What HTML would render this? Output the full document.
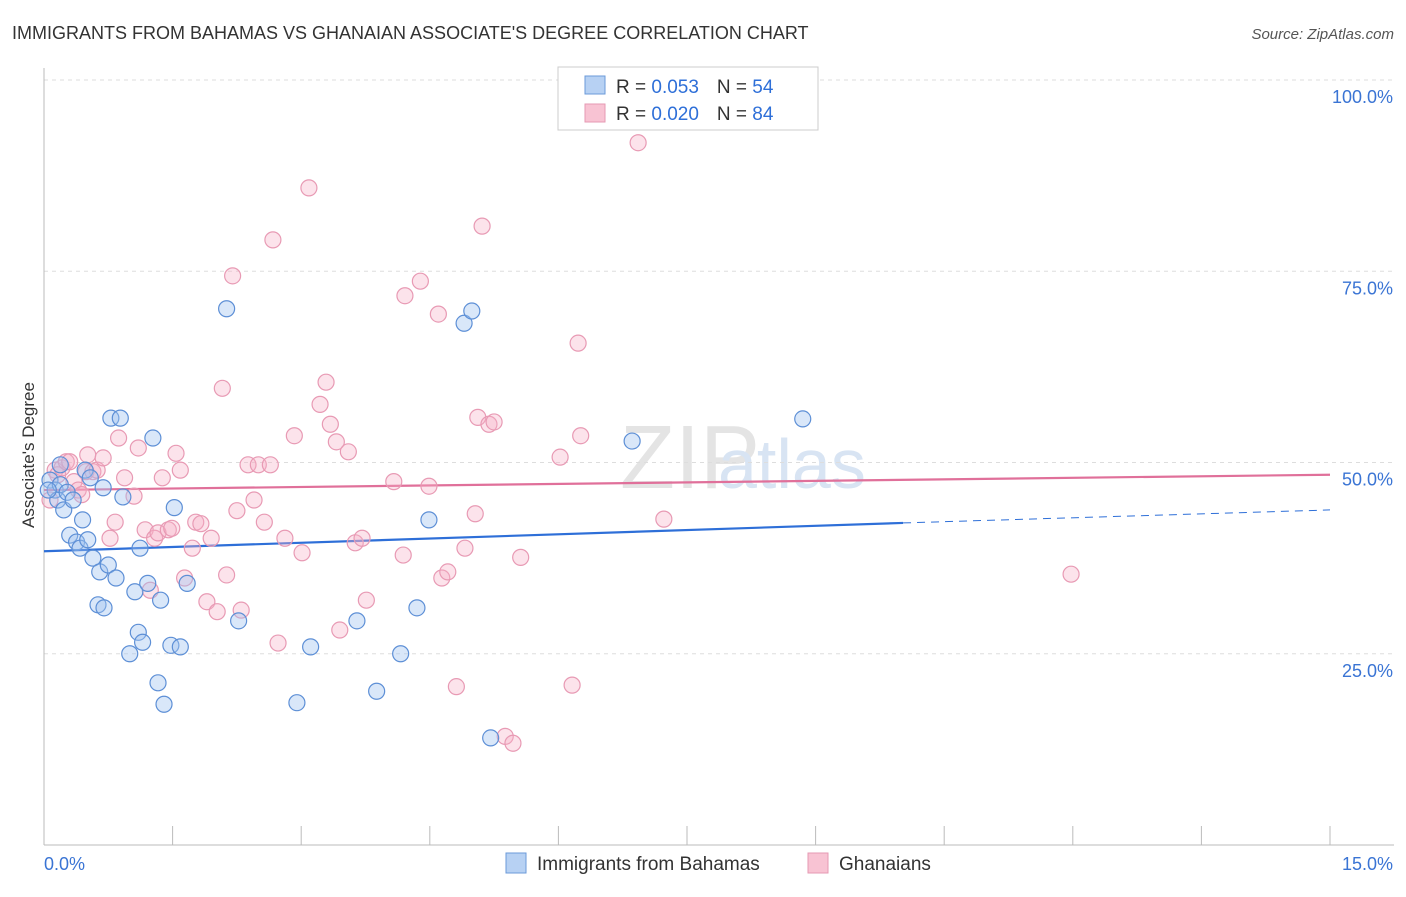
<!DOCTYPE html>
<html><head><meta charset="utf-8"><style>
body{margin:0;background:#fff;font-family:"Liberation Sans",sans-serif;}
svg text{font-family:"Liberation Sans",sans-serif;}
</style></head><body>
<svg id="chart" width="1406" height="892" xmlns="http://www.w3.org/2000/svg">
<text x="12" y="39" font-size="18" fill="#333">IMMIGRANTS FROM BAHAMAS VS GHANAIAN ASSOCIATE'S DEGREE CORRELATION CHART</text>
<text x="1394" y="39" font-size="15" fill="#555" font-style="italic" text-anchor="end">Source: ZipAtlas.com</text>
<text x="34" y="455" font-size="17" fill="#333" text-anchor="middle" transform="rotate(-90 34 455)">Associate's Degree</text>
<text x="620" y="488" font-size="90" fill="#e4e4e4" font-family="Liberation Serif">ZIP</text>
<text x="718" y="488" font-size="70" fill="#d8e4f3">atlas</text>
<g id="grid"></g>
<g id="axes"></g>
<g id="trends"></g>
<g id="pts"></g>
<g>
<rect x="558" y="67" width="260" height="63" fill="#fff" stroke="#ccc"/>
<rect x="585" y="76" width="20" height="18" fill="#b7d1f3" stroke="#6b9ad8"/>
<rect x="585" y="104" width="20" height="18" fill="#f8c3d3" stroke="#e69ab3"/>
<text x="616" y="93" font-size="19" fill="#333">R = <tspan fill="#2e6fd8">0.053</tspan><tspan dx="18">N = </tspan><tspan fill="#2e6fd8">54</tspan></text>
<text x="616" y="120" font-size="19" fill="#333">R = <tspan fill="#2e6fd8">0.020</tspan><tspan dx="18">N = </tspan><tspan fill="#2e6fd8">84</tspan></text>
</g>
<g>
<rect x="506" y="853" width="20" height="20" fill="#b7d1f3" stroke="#6b9ad8"/>
<text x="537" y="870" font-size="19" fill="#333">Immigrants from Bahamas</text>
<rect x="808" y="853" width="20" height="20" fill="#f8c3d3" stroke="#e69ab3"/>
<text x="839" y="870" font-size="19" fill="#333">Ghanaians</text>
</g>
</svg>
<script>
const xTicks=[0,1.5,3,4.5,6,7.5,9,10.5,12,13.5,15];
const yTicks=[25,50,75,100];
const yTickLabels=["25.0%","50.0%","75.0%","100.0%"];
const xEndLabels=["0.0%","15.0%"];
const bahamasX=[0.07,0.13,0.16,0.19,0.23,0.27,0.30,0.34,0.38,0.42,0.45,0.48,0.51,0.54,0.57,0.63,0.65,0.69,0.70,0.75,0.78,0.84,0.89,0.92,1.00,1.06,1.10,1.12,1.15,1.21,1.27,1.33,1.36,1.40,1.48,1.52,1.59,1.67,2.13,2.27,2.95,3.11,3.65,3.88,4.16,4.35,4.49,4.90,4.99,5.21,6.86,8.85,0.19,0.05];
const bahamasY=[47.7,46.4,45.1,47.1,43.8,46.1,40.5,45.1,39.6,38.8,42.5,49.0,39.9,48.0,37.5,31.4,35.7,46.7,31.0,36.6,55.8,34.9,55.8,45.5,25.0,33.1,27.8,38.8,26.5,34.2,53.2,21.2,32.0,18.4,26.1,44.1,25.9,34.2,70.1,29.3,18.6,25.9,29.3,20.1,25.0,31.0,42.5,68.2,69.8,14.0,52.8,55.7,49.7,46.4];
const ghanaX=[0.07,0.13,0.16,0.21,0.26,0.30,0.35,0.40,0.44,0.49,0.51,0.57,0.62,0.69,0.77,0.83,0.87,0.94,1.05,1.10,1.18,1.24,1.29,1.33,1.38,1.45,1.49,1.54,1.59,1.64,1.73,1.77,1.83,1.90,1.95,2.02,2.08,2.13,2.20,2.25,2.30,2.38,2.45,2.50,2.57,2.64,2.67,2.73,2.81,2.92,3.01,3.09,3.22,3.29,3.34,3.41,3.45,3.55,3.63,3.71,3.76,4.08,4.19,4.21,4.39,4.49,4.60,4.64,4.71,4.81,4.91,5.03,5.06,5.11,5.19,5.25,5.38,5.47,5.56,6.02,6.16,6.23,6.26,6.93,7.23,11.98];
const ghanaY=[45.1,49.0,48.4,49.3,50.1,50.1,47.5,46.4,45.8,48.8,51.0,48.8,49.0,50.6,40.1,42.2,53.2,48.0,45.6,51.9,41.2,33.3,40.1,40.8,48.0,41.2,41.4,51.2,49.0,34.9,38.8,42.2,42.0,31.8,40.1,30.5,59.7,35.3,74.4,43.7,30.7,49.7,45.1,49.7,42.2,49.7,79.1,26.4,40.1,53.5,38.2,85.9,57.6,60.5,55.0,52.7,28.1,51.4,39.5,40.1,32.0,47.5,37.9,71.8,73.7,46.9,69.4,34.9,35.7,20.7,38.8,43.3,55.9,80.9,55.0,55.3,14.2,13.3,37.6,50.7,20.9,65.6,53.5,91.8,42.6,35.4];
const bahamasTrend=[38.4,42.1,43.8];
const trendX=[0,10.02,15];
const ghanaTrend=[46.4,48.4];

const NS="http://www.w3.org/2000/svg";
const X0=44,X1=1330,Y0=845,Y100=80;
function sx(v){return X0+(X1-X0)*v/15;}
function sy(v){return Y0-(Y0-Y100)*v/100;}
function mk(tag,attrs,parent){const e=document.createElementNS(NS,tag);for(const k in attrs)e.setAttribute(k,attrs[k]);parent.appendChild(e);return e;}
const grid=document.getElementById('grid'),axes=document.getElementById('axes'),trends=document.getElementById('trends'),pts=document.getElementById('pts');
yTicks.forEach((t,i)=>{
 const l=mk('line',{x1:X0,x2:1394,y1:sy(t),y2:sy(t),stroke:'#ddd','stroke-dasharray':'4,4'},grid);
 
 
 const tx=mk('text',{x:1393,y:sy(t)+23,'font-size':18,fill:'#3a74d4','text-anchor':'end'},axes);
 tx.textContent=yTickLabels[i];
 
 
});
const xa=mk('line',{x1:X0,x2:1394,y1:Y0,y2:Y0,stroke:'#bbb'},axes);


const ya=mk('line',{x1:X0,x2:X0,y1:68,y2:Y0,stroke:'#bbb'},axes);


xTicks.forEach(t=>{
 const l=mk('line',{x1:sx(t),x2:sx(t),y1:Y0,y2:Y0-19,stroke:'#bbb'},axes);
 
 
});
const xl0=mk('text',{x:44,y:870,'font-size':18,fill:'#3a74d4'},axes);xl0.textContent=xEndLabels[0];


const xl1=mk('text',{x:1393,y:870,'font-size':18,fill:'#3a74d4','text-anchor':'end'},axes);xl1.textContent=xEndLabels[1];


ghanaX.forEach((x,i)=>{
 const c=mk('circle',{cx:sx(x),cy:sy(ghanaY[i]),r:8,fill:'rgba(245,175,198,0.35)',stroke:'#e89ab4','stroke-width':1.2},pts);
 
 
});
bahamasX.forEach((x,i)=>{
 const c=mk('circle',{cx:sx(x),cy:sy(bahamasY[i]),r:8,fill:'rgba(160,195,240,0.4)',stroke:'#5d8fd6','stroke-width':1.2},pts);
 
 
});
const bt=mk('line',{x1:sx(trendX[0]),y1:sy(bahamasTrend[0]),x2:sx(trendX[1]),y2:sy(bahamasTrend[1]),stroke:'#2e6fd8','stroke-width':2.2},trends);


const bd=mk('line',{x1:sx(trendX[1]),y1:sy(bahamasTrend[1]),x2:sx(trendX[2]),y2:sy(bahamasTrend[2]),stroke:'#2e6fd8','stroke-width':1,'stroke-dasharray':'8,6'},trends);


const gt=mk('line',{x1:sx(trendX[0]),y1:sy(ghanaTrend[0]),x2:sx(trendX[2]),y2:sy(ghanaTrend[1]),stroke:'#e0709a','stroke-width':2.2},trends);


</script>
</body></html>
